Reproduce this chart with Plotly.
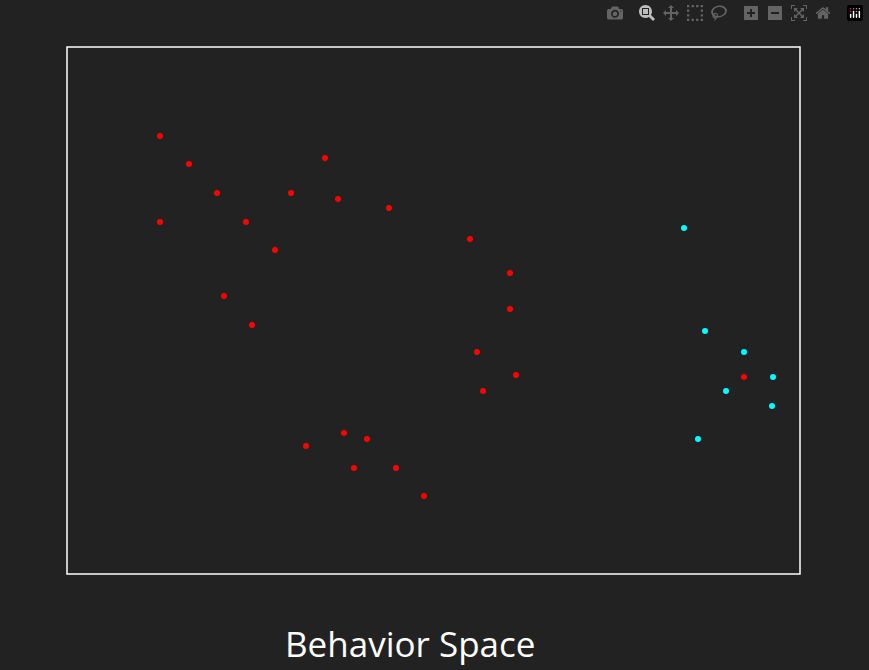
import plotly.graph_objects as go

# positions (plot-area pixel units, y downward)
red_x = [160, 189, 217, 160, 246, 275, 224, 252, 291, 325, 338, 389, 470, 510,
         510, 477, 516, 483, 306, 344, 367, 354, 396, 424, 744]
red_y = [136, 164, 193, 222, 222, 250, 296, 325, 193, 158, 199, 208, 239, 273,
         309, 352, 375, 391, 446, 433, 439, 468, 468, 496, 377]
cyan_x = [684, 705, 744, 773, 726, 772, 698]
cyan_y = [228, 331, 352, 377, 391, 406, 439]

fig = go.Figure()
fig.add_trace(go.Scatter(x=red_x, y=red_y, mode='markers',
                         marker=dict(color='red', size=6)))
fig.add_trace(go.Scatter(x=cyan_x, y=cyan_y, mode='markers',
                         marker=dict(color='cyan', size=6)))
fig.update_layout(
    width=869, height=670,
    paper_bgcolor='#222222', plot_bgcolor='#222222',
    showlegend=False,
    margin=dict(l=67, r=69, t=47, b=96),
    xaxis=dict(range=[67, 800], visible=False),
    yaxis=dict(range=[574, 47], visible=False),
    shapes=[dict(type='rect', xref='paper', yref='paper', x0=0, y0=0, x1=1, y1=1,
                 line=dict(color='white', width=1.5))],
    annotations=[dict(text='Behavior Space', xref='paper', yref='paper',
                      x=0.468, y=-0.131, yanchor='middle', showarrow=False,
                      font=dict(family='Open Sans', size=35, color='white'))],
)
fig.write_html("out.html",
               post_script="document.body.style.margin='0';"
                           "document.body.style.background='#222222';")
